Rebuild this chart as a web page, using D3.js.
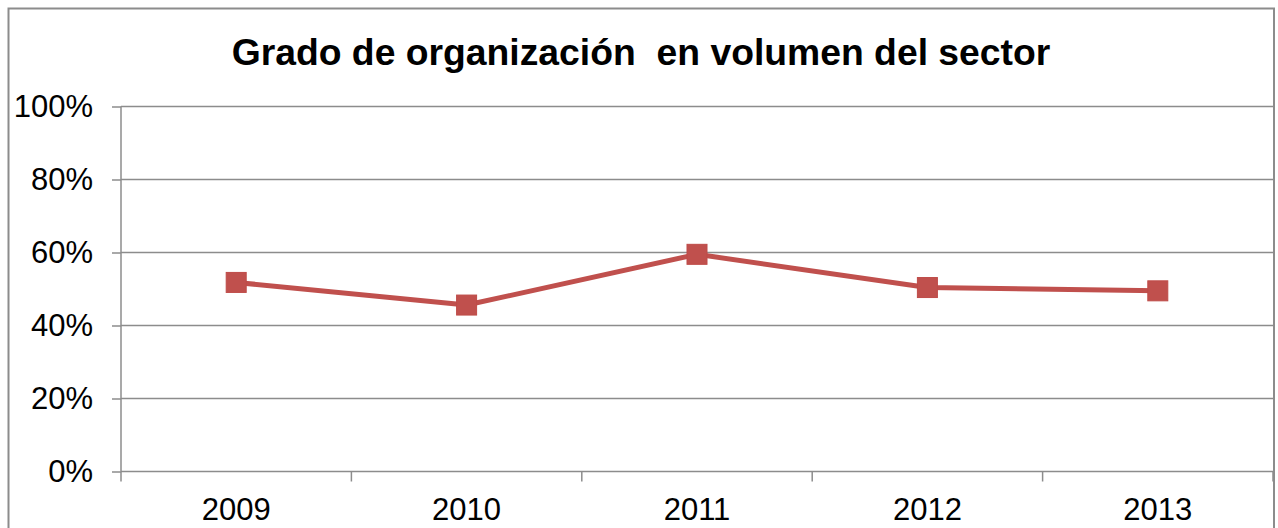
<!DOCTYPE html>
<html>
<head>
<meta charset="utf-8">
<script src="https://cdn.jsdelivr.net/npm/d3@7"></script>
<style>
  body { margin: 0; background: #fff; }
  svg { display: block; font-family: "Liberation Sans", Arial, sans-serif; }
</style>
</head>
<body>
<div id="chart"></div>
<script>

const years = ["2009", "2010", "2011", "2012", "2013"];
const values = [0.518, 0.456, 0.595, 0.504, 0.495];
const yTicks = [0, 0.2, 0.4, 0.6, 0.8, 1.0];

const width = 1278, height = 528;
const margin = {top: 106.5, bottom: 56.5, right: 5, left: 121};

const svg = d3.select("#chart").append("svg")
    .attr("width", width)
    .attr("height", height);

// chart frame
svg.append("rect")
    .attr("x", 8.5)
    .attr("y", 8.5)
    .attr("width", 1265.5)
    .attr("height", 540)
    .attr("fill", "#fff")
    .attr("stroke", "#8c8c8c")
    .attr("stroke-width", 2);

svg.append("text")
    .attr("x", 641)
    .attr("y", 65)
    .attr("text-anchor", "middle")
    .style("font-size", "37.3px")
    .style("font-weight", "bold")
    .style("white-space", "pre")
    .text("Grado de organización  en volumen del sector");

const x_scale = d3.scaleBand()
    .domain(years)
    .range([margin.left, width - margin.right]);

const y_scale = d3.scaleLinear()
    .domain([0, 1])
    .range([height - margin.bottom, margin.top]);

// gridlines
svg.append("g")
    .selectAll("line")
    .data(yTicks.slice(1))
    .join("line")
    .attr("x1", margin.left)
    .attr("x2", width - margin.right)
    .attr("y1", d => y_scale(d))
    .attr("y2", d => y_scale(d))
    .attr("stroke", "#8c8c8c")
    .attr("stroke-width", 1.5);

// y axis
let y_axis = d3.axisLeft(y_scale)
    .tickValues(yTicks)
    .tickFormat(d3.format(".0%"))
    .tickSize(9)
    .tickPadding(19);

const gy = svg.append("g")
    .attr("transform", `translate(${margin.left},0)`)
    .call(y_axis);
gy.select(".domain").remove();
gy.append("line")
    .attr("y1", y_scale(0)).attr("y2", y_scale(1))
    .attr("stroke", "#8c8c8c").attr("stroke-width", 1.5);

// x axis: ticks between categories
const boundaries = years.map(d => x_scale(d)).concat([x_scale.range()[1]]);
const gx = svg.append("g");
gx.append("line")
    .attr("x1", margin.left).attr("x2", width - margin.right)
    .attr("y1", y_scale(0)).attr("y2", y_scale(0))
    .attr("stroke", "#8c8c8c").attr("stroke-width", 1.5);
gx.selectAll(".tk")
    .data(boundaries)
    .join("line")
    .attr("class", "tk")
    .attr("x1", d => d).attr("x2", d => d)
    .attr("y1", y_scale(0)).attr("y2", y_scale(0) + 10)
    .attr("stroke", "#8c8c8c").attr("stroke-width", 1.5);
gx.selectAll("text")
    .data(years)
    .join("text")
    .attr("x", d => x_scale(d) + x_scale.bandwidth() / 2)
    .attr("y", 520)
    .attr("text-anchor", "middle")
    .style("font-size", "31px")
    .attr("fill", "#000")
    .text(d => d);

gy.selectAll(".tick line").attr("stroke", "#8c8c8c").attr("stroke-width", 1.5);
gy.selectAll(".tick text")
    .style("font-size", "31px")
    .attr("fill", "#000")
    .attr("font-family", null);

const cx = (d, i) => x_scale(years[i]) + x_scale.bandwidth() / 2;

const lineFunction = d3.line()
    .x((d, i) => cx(d, i))
    .y(d => y_scale(d));

svg.append("path")
    .datum(values)
    .attr("d", lineFunction)
    .attr("fill", "none")
    .attr("stroke", "#C0504D")
    .attr("stroke-width", 5)
    .attr("stroke-linejoin", "round");

const ms = 20;
svg.append("g")
    .selectAll("rect")
    .data(values)
    .join("rect")
    .attr("x", (d, i) => cx(d, i) - ms / 2)
    .attr("y", d => y_scale(d) - ms / 2)
    .attr("width", ms)
    .attr("height", ms)
    .attr("fill", "#C0504D")
    .attr("stroke", "#BE4B48")
    .attr("stroke-width", 1);

</script>
</body>
</html>
